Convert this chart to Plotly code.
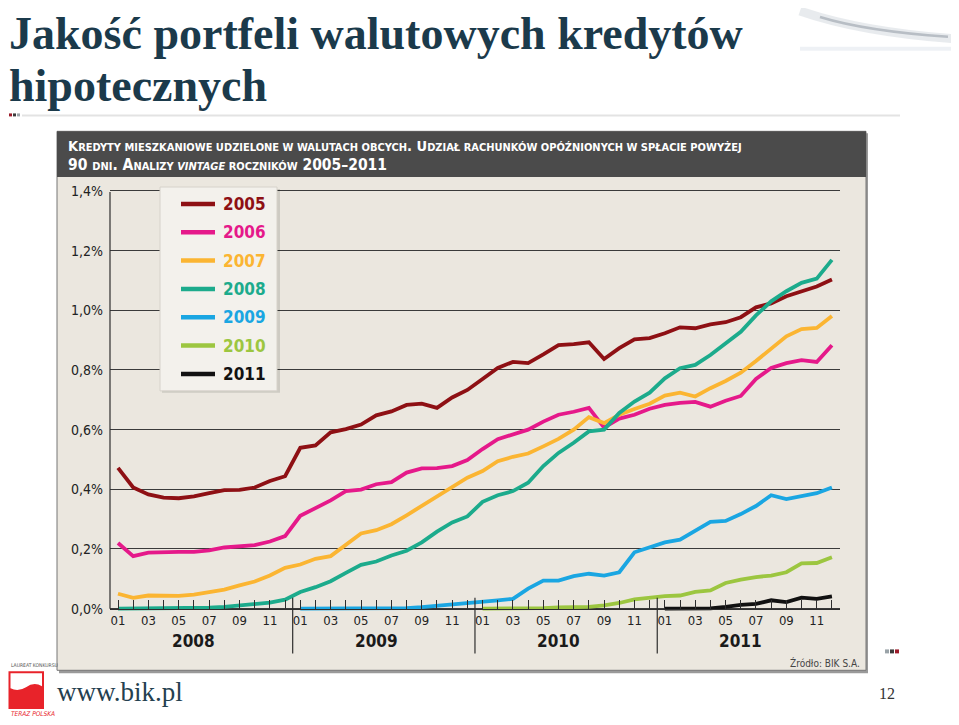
import plotly.graph_objects as go

# page is rendered with an 8px body margin, so the figure is 8px smaller each way
OFF = 8
W, H = 959 - OFF, 725 - OFF

# ---------------- data ----------------
series_names = ["2005", "2006", "2007", "2008", "2009", "2010", "2011"]
series_colors = ["#8e1014", "#e5198a", "#fbb532", "#1cab8c", "#1aa6e2", "#9cc640", "#111111"]
start_month = [0, 0, 0, 0, 12, 24, 36]   # index of first month (0 = 2008/01)

v2005 = [0.472, 0.406, 0.383, 0.372, 0.370, 0.376, 0.387, 0.397, 0.398, 0.406, 0.428, 0.444,
         0.539, 0.547, 0.591, 0.602, 0.617, 0.648, 0.661, 0.683, 0.687, 0.673, 0.708, 0.733,
         0.770, 0.807, 0.827, 0.823, 0.852, 0.883, 0.887, 0.893, 0.837, 0.873, 0.903, 0.907,
         0.923, 0.943, 0.940, 0.953, 0.960, 0.977, 1.010, 1.023, 1.047, 1.063, 1.080, 1.103]
v2006 = [0.220, 0.176, 0.188, 0.190, 0.190, 0.190, 0.195, 0.205, 0.210, 0.213, 0.225, 0.243,
         0.311, 0.336, 0.363, 0.394, 0.399, 0.417, 0.424, 0.456, 0.470, 0.471, 0.478, 0.498,
         0.535, 0.568, 0.583, 0.600, 0.627, 0.650, 0.660, 0.673, 0.607, 0.637, 0.650, 0.670,
         0.683, 0.690, 0.693, 0.677, 0.697, 0.713, 0.770, 0.807, 0.823, 0.833, 0.827, 0.883]
v2007 = [0.050, 0.036, 0.044, 0.043, 0.043, 0.047, 0.056, 0.064, 0.078, 0.091, 0.111, 0.137,
         0.148, 0.167, 0.176, 0.213, 0.252, 0.263, 0.283, 0.313, 0.344, 0.378, 0.408, 0.439,
         0.461, 0.494, 0.509, 0.520, 0.544, 0.569, 0.600, 0.642, 0.622, 0.650, 0.669, 0.687,
         0.714, 0.724, 0.711, 0.739, 0.763, 0.791, 0.830, 0.872, 0.913, 0.937, 0.941, 0.981]
v2008 = [0.000, 0.000, 0.000, 0.000, 0.000, 0.001, 0.003, 0.006, 0.010, 0.015, 0.020, 0.030,
         0.056, 0.072, 0.092, 0.120, 0.147, 0.158, 0.178, 0.194, 0.222, 0.258, 0.289, 0.309,
         0.358, 0.380, 0.394, 0.422, 0.478, 0.522, 0.556, 0.594, 0.600, 0.656, 0.694, 0.724,
         0.772, 0.806, 0.817, 0.850, 0.889, 0.928, 0.983, 1.030, 1.064, 1.092, 1.106, 1.169]
v2009 = [0.000, 0.000, 0.000, 0.000, 0.000, 0.000, 0.000, 0.002, 0.005, 0.009, 0.014, 0.020,
         0.022, 0.028, 0.033, 0.067, 0.094, 0.094, 0.109, 0.117, 0.111, 0.122, 0.189, 0.206,
         0.222, 0.231, 0.261, 0.291, 0.294, 0.317, 0.344, 0.380, 0.367, 0.378, 0.387, 0.406]
v2010 = [0.000, 0.000, 0.000, 0.002, 0.002, 0.004, 0.005, 0.006, 0.011, 0.019, 0.031, 0.038,
         0.042, 0.044, 0.056, 0.061, 0.086, 0.097, 0.106, 0.111, 0.122, 0.152, 0.153, 0.172]
v2011 = [0.000, 0.000, 0.000, 0.001, 0.006, 0.013, 0.016, 0.028, 0.022, 0.037, 0.033, 0.041]
series_values = [v2005, v2006, v2007, v2008, v2009, v2010, v2011]

month_labels = ["01", "", "03", "", "05", "", "07", "", "09", "", "11", ""]
year_labels = ["2008", "2009", "2010", "2011"]
y_tick_values = [0.0, 0.2, 0.4, 0.6, 0.8, 1.0, 1.2, 1.4]
y_tick_labels = ["0,0%", "0,2%", "0,4%", "0,6%", "0,8%", "1,0%", "1,2%", "1,4%"]

title_line1 = "Jakość portfeli walutowych kredytów"
title_line2 = "hipotecznych"
source_text = "Źródło: BIK S.A."


# ---------------- helpers (page pixel -> paper) ----------------
def PX(x):
    return (x - OFF) / W


def PY(y):
    return 1 - (y - OFF) / H


COND = "'Liberation Sans Narrow', 'DejaVu Sans Condensed', 'Roboto Condensed', 'Arial Narrow', 'Open Sans', sans-serif"
SERIF = "'Liberation Serif', 'DejaVu Serif', serif"

n_months = 12 * len(year_labels)
tick_vals = list(range(n_months))
tick_text = [month_labels[i % 12] for i in tick_vals]

fig = go.Figure()
for name, color, start, vals in zip(series_names, series_colors, start_month, series_values):
    fig.add_trace(go.Scatter(
        x=list(range(start, start + len(vals))), y=vals, name=name, mode="lines",
        line=dict(color=color, width=3.8), showlegend=False, hoverinfo="x+y+name"))

shapes = []
annotations = []

# slide decorations
shapes.append(dict(type="line", xref="paper", yref="paper", x0=PX(22), x1=PX(900), y0=PY(114), y1=PY(114),
                   line=dict(color="#e3e3e3", width=2), layer="below"))
for i, c in enumerate(["#9b1b2a", "#3b3b3b", "#9aa3a8"]):
    shapes.append(dict(type="rect", xref="paper", yref="paper", x0=PX(9 + i * 4), x1=PX(12 + i * 4),
                       y0=PY(115), y1=PY(112), fillcolor=c, line=dict(width=0)))
for i, c in enumerate(["#9aa3a8", "#3b3b3b", "#9b1b2a"]):
    shapes.append(dict(type="rect", xref="paper", yref="paper", x0=PX(885 + i * 5), x1=PX(889 + i * 5),
                       y0=PY(655), y1=PY(651), fillcolor=c, line=dict(width=0)))
# swoosh top-right
shapes.append(dict(type="path", xref="paper", yref="paper",
                   path=f"M {PX(800)} {PY(9)} Q {PX(860)} {PY(30)} {PX(955)} {PY(37)}",
                   line=dict(color="rgba(150,165,178,0.22)", width=9)))
shapes.append(dict(type="path", xref="paper", yref="paper",
                   path=f"M {PX(820)} {PY(15)} Q {PX(865)} {PY(29)} {PX(948)} {PY(35)}",
                   line=dict(color="rgba(95,105,120,0.35)", width=2.5)))
shapes.append(dict(type="line", xref="paper", yref="paper", x0=PX(800), x1=PX(955), y0=PY(47), y1=PY(47),
                   line=dict(color="rgba(205,215,225,0.35)", width=4)))
# logo
shapes.append(dict(type="rect", xref="paper", yref="paper", x0=PX(8.5), x1=PX(44), y0=PY(711), y1=PY(673),
                   fillcolor="#e8232a", line=dict(width=0)))
shapes.append(dict(type="path", xref="paper", yref="paper",
                   path=(f"M {PX(10.5)} {PY(675)} L {PX(42)} {PY(675)} L {PX(42)} {PY(688)} "
                         f"Q {PX(34)} {PY(683)} {PX(26)} {PY(689)} Q {PX(18)} {PY(694)} {PX(10.5)} {PY(690)} Z"),
                   fillcolor="white", line=dict(width=0)))
annotations.append(dict(x=PX(9), y=PY(667), xref="paper", yref="paper", text="LAUREAT KONKURSU",
                        showarrow=False, xanchor="left", yanchor="middle",
                        font=dict(family=COND, size=5, color="#555")))
annotations.append(dict(x=PX(9), y=PY(716), xref="paper", yref="paper", text="<i>TERAZ POLSKA</i>",
                        showarrow=False, xanchor="left", yanchor="middle",
                        font=dict(family=COND, size=6.5, color="#e8232a")))

# chart panel
shapes.append(dict(type="rect", xref="paper", yref="paper", x0=PX(59), x1=PX(868), y0=PY(675), y1=PY(132),
                   fillcolor="#9a9a9a", line=dict(width=0), layer="below"))
shapes.append(dict(type="rect", xref="paper", yref="paper", x0=PX(57), x1=PX(866), y0=PY(672), y1=PY(130),
                   fillcolor="#ebe7df", line=dict(color="#777777", width=1), layer="below"))
shapes.append(dict(type="rect", xref="paper", yref="paper", x0=PX(57), x1=PX(866), y0=PY(176), y1=PY(130),
                   fillcolor="#4b4b4b", line=dict(width=0), layer="below"))

# y axis line
shapes.append(dict(type="line", xref="paper", yref="paper", x0=PX(110), x1=PX(110), y0=PY(610), y1=PY(191),
                   line=dict(color="#2e2e2e", width=1.2)))
# year separators and labels
for k in range(1, len(year_labels)):
    shapes.append(dict(type="line", xref="x", yref="paper", x0=12 * k - 0.5, x1=12 * k - 0.5,
                       y0=PY(655), y1=PY(599), line=dict(color="#2e2e2e", width=1.2)))
for k, yl in enumerate(year_labels):
    annotations.append(dict(x=12 * k + 5, y=PY(643), xref="x", yref="paper", text=f"<b>{yl}</b>",
                            showarrow=False, xanchor="center", yanchor="middle",
                            font=dict(family=COND, size=17, color="#1a1a1a")))

# legend box
shapes.append(dict(type="rect", xref="paper", yref="paper", x0=PX(162), x1=PX(280), y0=PY(393), y1=PY(188),
                   fillcolor="rgba(0,0,0,0.12)", line=dict(width=0), layer="above"))
shapes.append(dict(type="rect", xref="paper", yref="paper", x0=PX(160), x1=PX(277), y0=PY(391), y1=PY(186),
                   fillcolor="#f3f1ec", line=dict(color="#d6d2ca", width=1), layer="above"))
for i, (name, color) in enumerate(zip(series_names, series_colors)):
    yc = 203 + i * 28.5
    shapes.append(dict(type="line", xref="paper", yref="paper", x0=PX(181), x1=PX(215), y0=PY(yc), y1=PY(yc),
                       line=dict(color=color, width=4.5), layer="above"))
    annotations.append(dict(x=PX(221), y=PY(yc), xref="paper", yref="paper", text=f"<b>{name}</b>",
                            showarrow=False, xanchor="left", yanchor="middle",
                            font=dict(family=COND, size=17, color=color)))

# header text
sm = "<span style='font-size:11px'>"
header1 = (f"K{sm}REDYTY MIESZKANIOWE UDZIELONE W WALUTACH OBCYCH</span>. "
           f"U{sm}DZIAŁ RACHUNKÓW OPÓŹNIONYCH W SPŁACIE POWYŻEJ</span>")
header2 = f"90 {sm}DNI</span>. A{sm}NALIZY <i>VINTAGE</i> ROCZNIKÓW</span> 2005–2011"
annotations.append(dict(x=PX(67), y=PY(154), xref="paper", yref="paper", text=f"<b>{header1}</b>",
                        showarrow=False, xanchor="left", yanchor="bottom", borderpad=0,
                        font=dict(family=COND, size=14.5, color="white")))
annotations.append(dict(x=PX(67), y=PY(154), xref="paper", yref="paper", text=f"<b>{header2}</b>",
                        showarrow=False, xanchor="left", yanchor="top", borderpad=0,
                        font=dict(family=COND, size=15.5, color="white")))

# source
annotations.append(dict(x=PX(862), y=PY(665), xref="paper", yref="paper", text=source_text,
                        showarrow=False, xanchor="right", yanchor="middle",
                        font=dict(family=COND, size=10, color="#444")))

# slide title + footer
annotations.append(dict(x=PX(8), y=PY(58), xref="paper", yref="paper", text=f"<b>{title_line1}</b>",
                        showarrow=False, xanchor="left", yanchor="bottom", borderpad=0,
                        font=dict(family=SERIF, size=46, color="#1b3a4b")))
annotations.append(dict(x=PX(8), y=PY(57), xref="paper", yref="paper", text=f"<b>{title_line2}</b>",
                        showarrow=False, xanchor="left", yanchor="top", borderpad=0,
                        font=dict(family=SERIF, size=46, color="#1b3a4b")))
annotations.append(dict(x=PX(55), y=PY(694), xref="paper", yref="paper", text="www.bik.pl",
                        showarrow=False, xanchor="left", yanchor="middle",
                        font=dict(family=SERIF, size=27, color="#24404f")))
annotations.append(dict(x=PX(887), y=PY(695), xref="paper", yref="paper", text="12",
                        showarrow=False, xanchor="center", yanchor="middle",
                        font=dict(family=SERIF, size=16, color="#333")))

month_px = 15.19
fig.update_layout(
    width=W, height=H, margin=dict(l=0, r=0, t=0, b=0),
    paper_bgcolor="white", plot_bgcolor="rgba(0,0,0,0)",
    showlegend=False, shapes=shapes, annotations=annotations,
    xaxis=dict(domain=[PX(110), PX(840)], range=[-8 / month_px, (840 - 118) / month_px],
               anchor="free", position=PY(610),
               tickmode="array", tickvals=tick_vals, ticktext=tick_text,
               ticks="inside", ticklen=9, tickwidth=1.2, tickcolor="#2e2e2e",
               showline=True, linecolor="#2e2e2e", linewidth=1.2,
               showgrid=False, zeroline=False,
               tickfont=dict(family=COND, size=13, color="#222")),
    yaxis=dict(domain=[PY(616), PY(184)], range=[-0.02, 1.42],
               tickmode="array", tickvals=y_tick_values, ticktext=y_tick_labels,
               ticks="", showline=False, zeroline=False,
               showgrid=True, gridcolor="#3a3a3a", gridwidth=1,
               ticklabelstandoff=6,
               tickfont=dict(family=COND, size=14, color="#222")),
)

fig.write_html("out.html")
